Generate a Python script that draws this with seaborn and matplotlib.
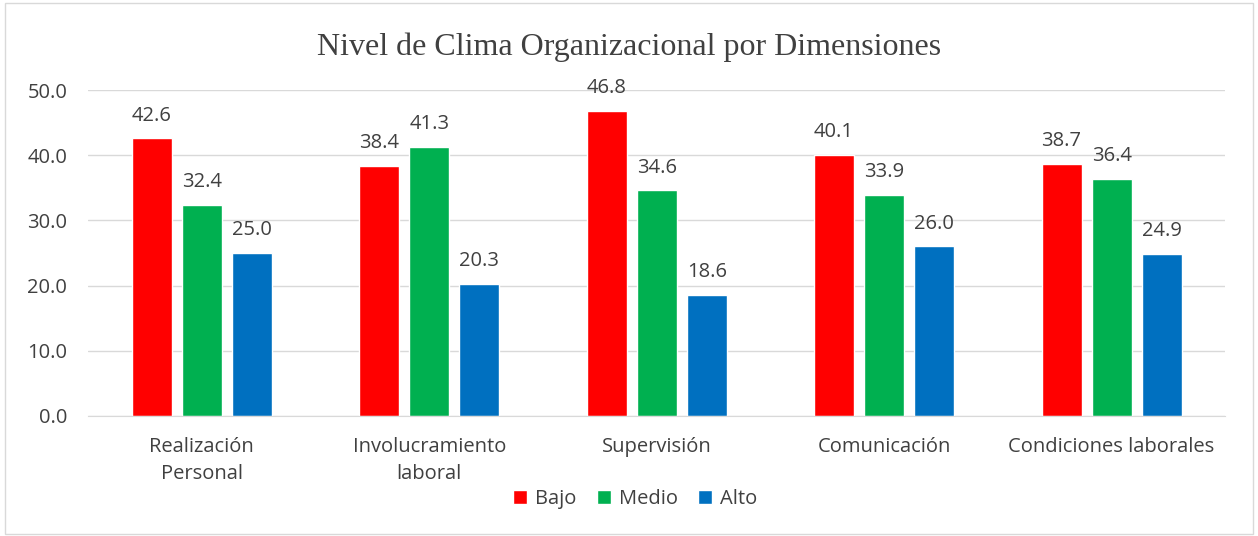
import pandas as pd
import matplotlib.pyplot as plt
import seaborn as sns

dimensiones = ["Realización\nPersonal", "Involucramiento\nlaboral", "Supervisión",
               "Comunicación", "Condiciones laborales"]
niveles = ["Bajo", "Medio", "Alto"]
bajo = [42.6, 38.4, 46.8, 40.1, 38.7]
medio = [32.4, 41.3, 34.6, 33.9, 36.4]
alto = [25.0, 20.3, 18.6, 26.0, 24.9]
colores = ["#FF0000", "#00B050", "#0070C0"]

df = pd.DataFrame({"Dimension": dimensiones * 3,
                   "Nivel": ["Bajo"] * 5 + ["Medio"] * 5 + ["Alto"] * 5,
                   "Valor": bajo + medio + alto})

sns.set_style("white")
plt.rcParams["font.family"] = ["Open Sans", "DejaVu Sans"]

fig = plt.figure(figsize=(12.58, 5.36), dpi=100)
ax = fig.add_axes([0.07, 0.224, 0.904, 0.608])

sns.barplot(data=df, x="Dimension", y="Valor", hue="Nivel", hue_order=niveles,
            palette=colores, width=0.66, gap=0.2, saturation=1, ax=ax, legend=True)

for cont in ax.containers:
    ax.bar_label(cont, fmt="%.1f", padding=9, fontsize=14.5, color="#404040")

ax.set_ylim(0, 50)
ax.set_yticks(range(0, 51, 10))
ax.set_yticklabels([f"{v:.1f}" for v in range(0, 51, 10)])
ax.yaxis.grid(True, color="#D9D9D9", linewidth=1)
ax.set_axisbelow(True)
for s in ["left", "right", "top"]:
    ax.spines[s].set_visible(False)
ax.spines["bottom"].set_color("#D9D9D9")
ax.tick_params(axis="both", labelsize=14.5, colors="#404040", length=0)
ax.tick_params(axis="y", pad=15)
ax.tick_params(axis="x", pad=15)
for t in ax.get_xticklabels():
    t.set_linespacing(1.5)
ax.set_xlabel("")
ax.set_ylabel("")

fig.text(0.5, 0.912, "Nivel de Clima Organizacional por Dimensiones", ha="center",
         va="center", fontsize=23, family="Liberation Serif", color="#404040")

ax.legend(loc="center", bbox_to_anchor=(0.505, 0.069), bbox_transform=fig.transFigure,
          ncol=3, frameon=False, fontsize=14.5, handlelength=0.7, handleheight=0.7,
          columnspacing=1.0, handletextpad=0.4, labelcolor="#404040")

fig.patches.append(plt.Rectangle((0.004, 0.004), 0.992, 0.99, transform=fig.transFigure,
                                 fill=False, edgecolor="#D9D9D9", linewidth=1))

plt.savefig("out.png", dpi=100)
plt.close()
